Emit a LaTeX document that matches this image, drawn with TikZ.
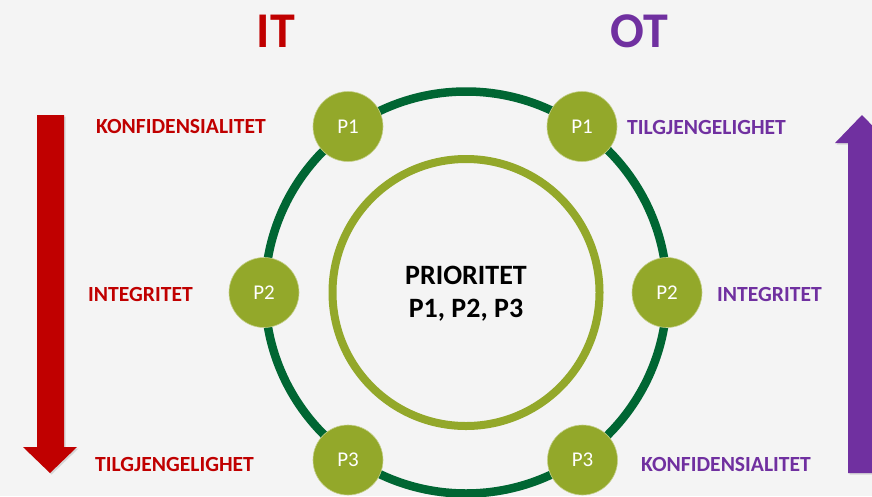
\documentclass[tikz,border=0pt]{standalone}
\usepackage{fontspec}
\setmainfont{Carlito}
\usetikzlibrary{shadows}

\definecolor{itred}{HTML}{C00000}
\definecolor{otpurple}{HTML}{7030A0}
\definecolor{ringgreen}{HTML}{006633}
\definecolor{priogreen}{HTML}{93A82A}
\definecolor{paper}{HTML}{F4F4F4}

\tikzset{
  prio/.style={circle, fill=priogreen, draw=priogreen!55!white, line width=0.6pt,
    minimum size=70pt, inner sep=0pt, text=white, font=\fontsize{21}{25}\selectfont},
  itlabel/.style={anchor=base west, inner sep=0pt, text=itred,
    font=\bfseries\fontsize{21.6}{26}\selectfont},
  otlabel/.style={itlabel, text=otpurple},
  headline/.style={inner sep=0pt, font=\bfseries\fontsize{50}{60}\selectfont},
  bigarrow/.style={drop shadow={opacity=0.25, shadow xshift=1.5pt, shadow yshift=-1.5pt}}
}

\begin{document}
\begin{tikzpicture}[x=1pt,y=-1pt]

  % Background
  \fill[paper] (0,0) rectangle (872,496);
  \useasboundingbox (0,0) rectangle (872,496);
  \clip (0,0) rectangle (872,496);

  % Rings
  \coordinate (c) at (466,292.5);
  \draw[ringgreen, line width=8.5pt] (c) circle[radius=201];
  \draw[priogreen, line width=8pt] (c) circle[radius=133.5];

  % Define nodes
  \node[headline, text=itred] (it) at (276,31) {IT};
  \node[headline, text=otpurple] (ot) at (639,31) {OT};

  \node[prio] (p1it) at (348,126.5) {P1};
  \node[prio] (p1ot) at (582,126.5) {P1};
  \node[prio] (p2it) at (264,292.5) {P2};
  \node[prio] (p2ot) at (667,292.5) {P2};
  \node[prio] (p3it) at (348,460) {P3};
  \node[prio] (p3ot) at (582.5,460) {P3};

  \node[align=center, inner sep=0pt, font=\bfseries\fontsize{28}{33}\selectfont]
    (prioritet) at (466,294) {PRIORITET\\P1, P2, P3};

  \node[itlabel] (konfit) at (96,133.5) {KONFIDENSIALITET};
  \node[itlabel] (intit) at (88,301) {INTEGRITET};
  \node[itlabel] (tilgit) at (95,471) {TILGJENGELIGHET};

  \node[otlabel] (tilgot) at (627,134) {TILGJENGELIGHET};
  \node[otlabel] (intot) at (717,301) {INTEGRITET};
  \node[otlabel] (konfot) at (641,471) {KONFIDENSIALITET};

  % Arrows
  \fill[itred, bigarrow] (37,115) -- (64,115) -- (64,447) -- (77,447)
    -- (50,473) -- (23,447) -- (37,447) -- cycle;
  \fill[otpurple, bigarrow] (848,473) -- (876,473) -- (876,143) -- (889,143)
    -- (862,115) -- (835,143) -- (848,143) -- cycle;

\end{tikzpicture}
\end{document}
